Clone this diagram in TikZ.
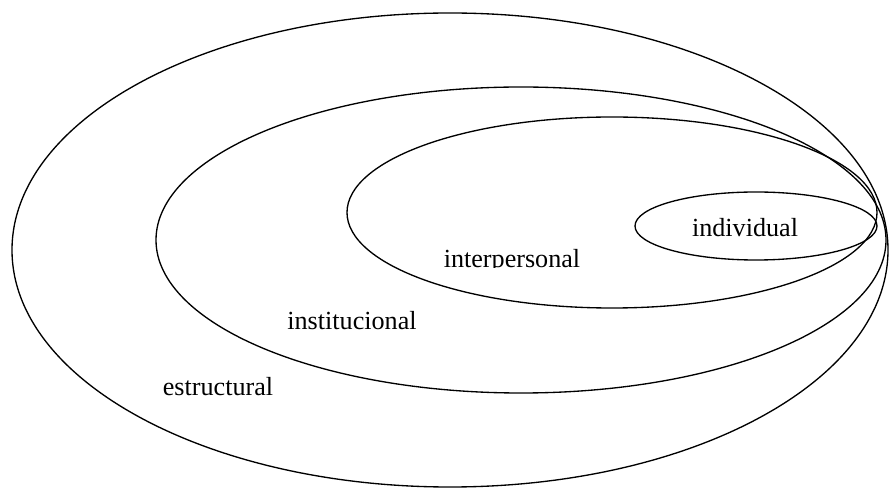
\documentclass[tikz,border=0pt]{standalone}
\usepackage{fontspec}
\setmainfont{Liberation Serif}
\usepackage{tikz}
\usetikzlibrary{shapes}
\tikzstyle{ring} = [draw, ellipse, line width=1pt, inner sep=0pt]
\tikzstyle{tag} = [font=\fontsize{19.6}{23}\selectfont, inner sep=0pt, anchor=base]

\begin{document}
\begin{tikzpicture}[x=0.75pt, y=-0.75pt]
    \useasboundingbox (0,0) rectangle (889,491);
    % We start by placing the levels, from the outside in
    \node [ring, minimum width=657pt, minimum height=355.5pt] (struct) at (450,250) {};
    \node [ring, minimum width=547.5pt, minimum height=229.5pt] (inst) at (521,240) {};
    \node [ring, minimum width=397.5pt, minimum height=143.25pt] (inter) at (612,212.5) {};
    \node [ring, minimum width=181.5pt, minimum height=51pt] (indiv) at (756,226) {};
    % Then the names of the levels
    \node [tag] (indivname) at (745,237) {individual};
    \begin{scope}
        \clip (420,230) rectangle (610,268);
        \node [tag] (intername) at (512,268) {interpersonal};
    \end{scope}
    \node [tag] (instname) at (352,330) {institucional};
    \node [tag] (structname) at (218,396) {estructural};
\end{tikzpicture}
\end{document}
